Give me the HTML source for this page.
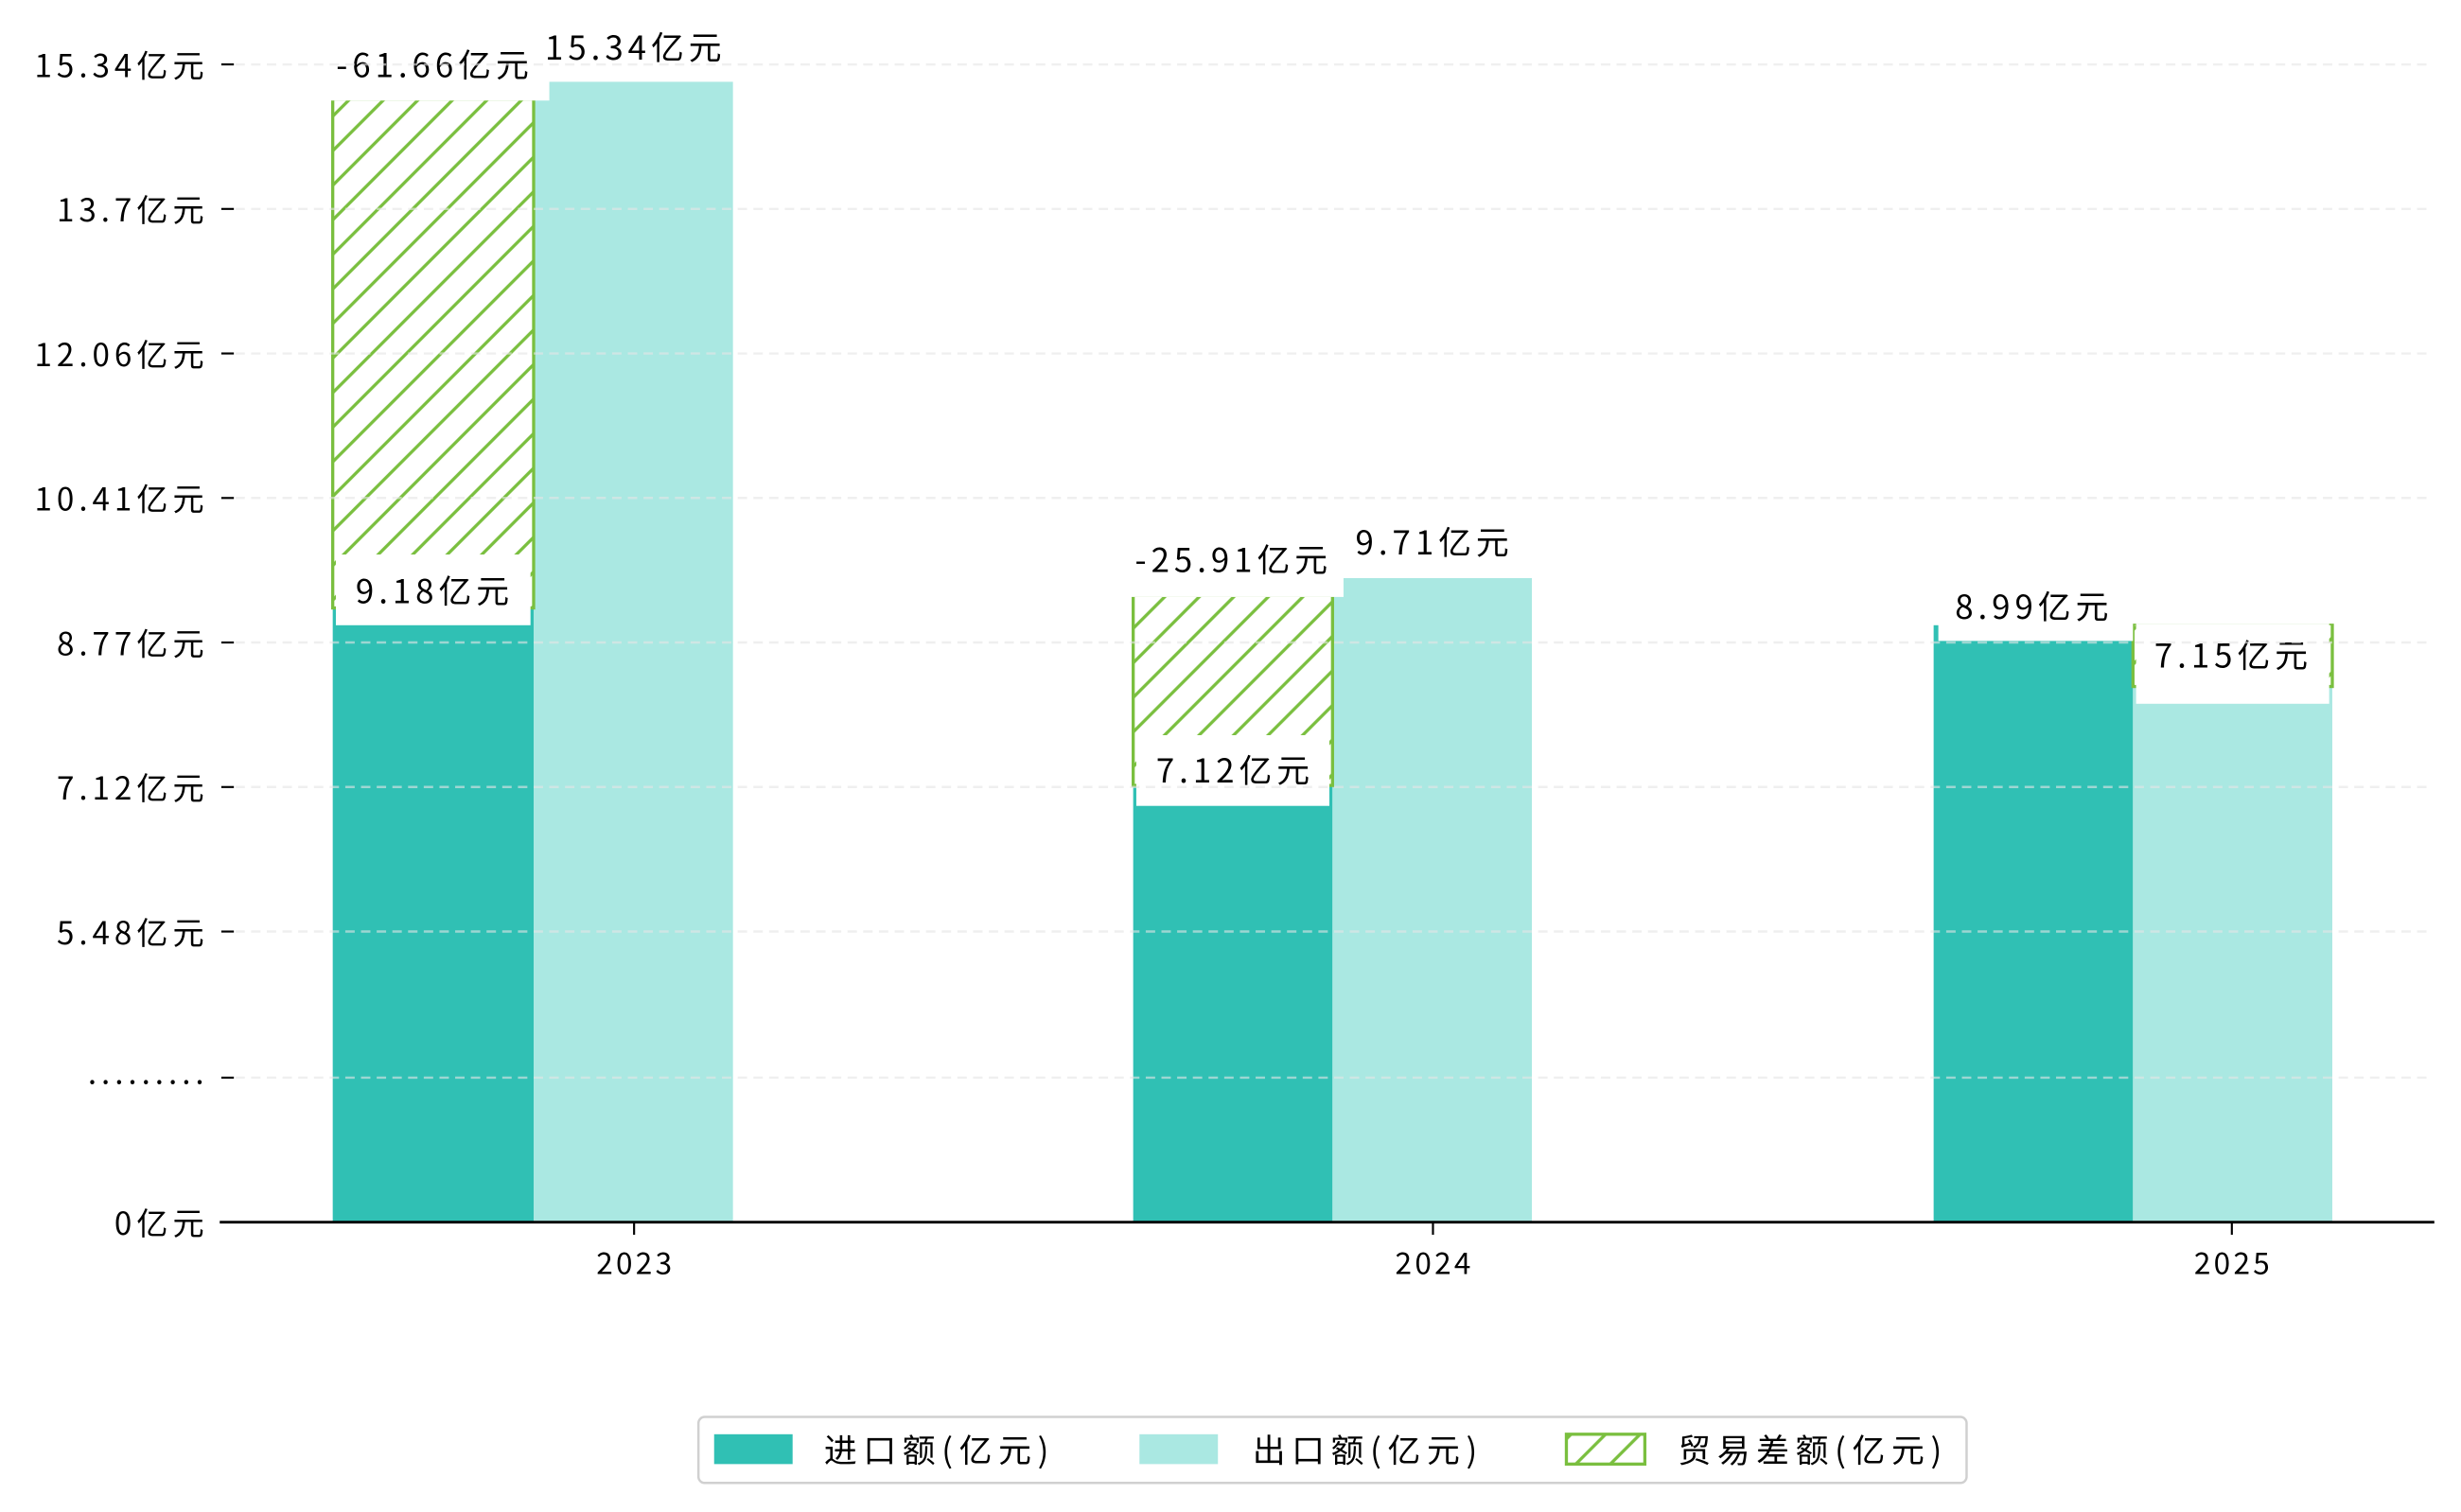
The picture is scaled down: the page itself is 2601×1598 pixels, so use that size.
<!DOCTYPE html>
<html><head><meta charset="utf-8"><style>
html,body{margin:0;padding:0;background:#fff;}
svg{display:block;}
text{font-family:"WenQuanYi Zen Hei","Noto Sans CJK SC",sans-serif;fill:#000;}
</style></head><body>
<svg width="2601" height="1598" viewBox="0 0 1568 962.5" preserveAspectRatio="none" xmlns="http://www.w3.org/2000/svg">
<defs>
<pattern id="h" patternUnits="userSpaceOnUse" width="22" height="22">
<path d="M-2,24 L24,-2 M-13,13 L13,-13 M9,35 L35,9" stroke="#7abf3f" stroke-width="2"/>
</pattern>
</defs>
<rect width="1568" height="962.5" fill="#fff"/>
<g>
<rect x="212" y="387" width="128" height="391" fill="#30c0b4"/>
<rect x="340" y="52" width="127" height="726" fill="#aae8e2"/>
<rect x="722" y="500" width="127" height="278" fill="#30c0b4"/>
<rect x="849" y="368" width="127" height="410" fill="#aae8e2"/>
<rect x="1232" y="398" width="127" height="380" fill="#30c0b4"/>
<rect x="1359" y="437" width="127" height="341" fill="#aae8e2"/>
</g>
<rect x="212" y="63" width="128" height="324" fill="url(#h)" stroke="#7abf3f" stroke-width="2"/>
<rect x="722" y="379" width="127" height="121" fill="url(#h)" stroke="#7abf3f" stroke-width="2"/>
<rect x="1359" y="397" width="127" height="40" fill="url(#h)" stroke="#7abf3f" stroke-width="2"/>
<g fill="#fff">
<rect x="206" y="22" width="144" height="42"/>
<rect x="340" y="12" width="127" height="40"/>
<rect x="214" y="353" width="124" height="45"/>
<rect x="716" y="338" width="140" height="42"/>
<rect x="849" y="327" width="127" height="41"/>
<rect x="724" y="468" width="123" height="45"/>
<rect x="1235" y="367" width="124" height="41"/>
<rect x="1357" y="394" width="131" height="3"/>
<rect x="1361" y="397" width="123" height="51"/>
</g>
<g font-size="21" text-anchor="middle" letter-spacing="3">
<text x="277" y="49">-61.66亿元</text>
<text x="405" y="38">15.34亿元</text>
<text x="277" y="384">9.18亿元</text>
<text x="786" y="364">-25.91亿元</text>
<text x="914" y="353">9.71亿元</text>
<text x="787" y="498">7.12亿元</text>
<text x="1296" y="394">8.99亿元</text>
<text x="1423" y="425">7.15亿元</text>
</g>
<g stroke="#e6e6e6" stroke-width="1.5" stroke-dasharray="6,4" opacity="0.6">
<line x1="150" y1="41" x2="1550" y2="41"/>
<line x1="150" y1="133" x2="1550" y2="133"/>
<line x1="150" y1="225" x2="1550" y2="225"/>
<line x1="150" y1="317" x2="1550" y2="317"/>
<line x1="150" y1="409" x2="1550" y2="409"/>
<line x1="150" y1="501" x2="1550" y2="501"/>
<line x1="150" y1="593" x2="1550" y2="593"/>
<line x1="150" y1="686" x2="1550" y2="686"/>
</g>
<line x1="140" y1="778" x2="1551" y2="778" stroke="#000" stroke-width="1.8"/>
<g stroke="#000" stroke-width="1.3">
<line x1="141" y1="41" x2="149" y2="41"/>
<line x1="141" y1="133" x2="149" y2="133"/>
<line x1="141" y1="225" x2="149" y2="225"/>
<line x1="141" y1="317" x2="149" y2="317"/>
<line x1="141" y1="409" x2="149" y2="409"/>
<line x1="141" y1="501" x2="149" y2="501"/>
<line x1="141" y1="593" x2="149" y2="593"/>
<line x1="141" y1="686" x2="149" y2="686"/>
<line x1="404" y1="778" x2="404" y2="786"/>
<line x1="913" y1="778" x2="913" y2="786"/>
<line x1="1422" y1="778" x2="1422" y2="786"/>
</g>
<g font-size="20" text-anchor="end" letter-spacing="3">
<text x="133" y="49">15.34亿元</text>
<text x="133" y="141">13.7亿元</text>
<text x="133" y="233">12.06亿元</text>
<text x="133" y="325">10.41亿元</text>
<text x="133" y="417">8.77亿元</text>
<text x="133" y="509">7.12亿元</text>
<text x="133" y="601">5.48亿元</text>
<text x="133" y="690">.........</text>
<text x="133" y="786">0亿元</text>
</g>
<g font-size="19" text-anchor="middle" letter-spacing="2">
<text x="405" y="811">2023</text>
<text x="914" y="811">2024</text>
<text x="1423" y="811">2025</text>
</g>
<rect x="445" y="902" width="808" height="42" rx="4" fill="#fff" stroke="#d0d0d0" stroke-width="1.5"/>
<rect x="455" y="913" width="50" height="19" fill="#30c0b4"/>
<rect x="726" y="913" width="50" height="19" fill="#aae8e2"/>
<rect x="998" y="913" width="50" height="19" fill="url(#h)" stroke="#7abf3f" stroke-width="2"/>
<g font-size="21" letter-spacing="4">
<text x="525" y="931">进口额(亿元)</text>
<text x="798" y="931">出口额(亿元)</text>
<text x="1069" y="931">贸易差额(亿元)</text>
</g>
</svg>
</body></html>
